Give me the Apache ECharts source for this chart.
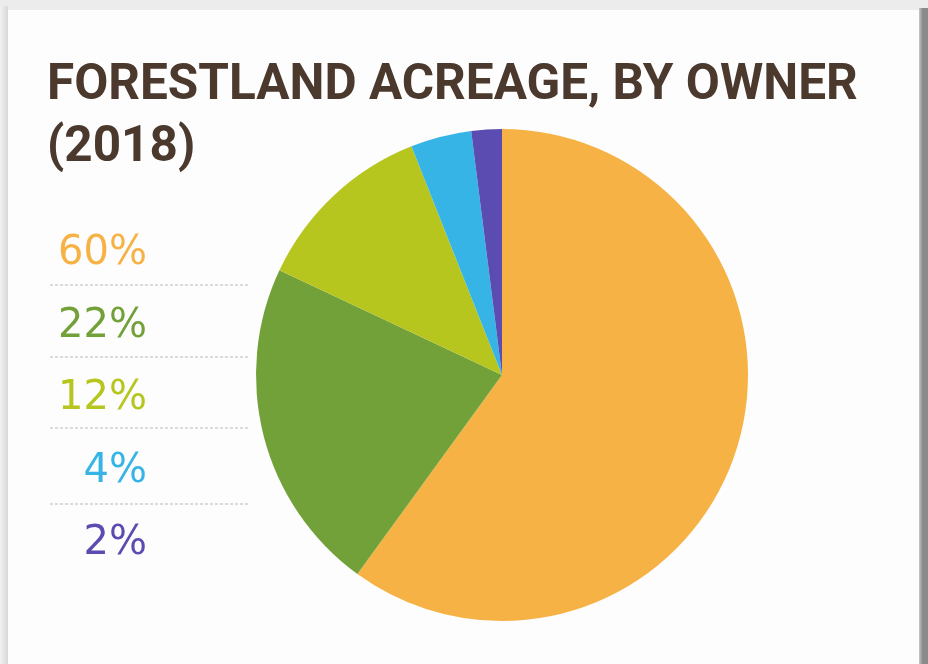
<!DOCTYPE html>
<html>
<head>
<meta charset="utf-8">
<script src="https://cdn.jsdelivr.net/npm/echarts@6/dist/echarts.min.js"></script>
<style>
  html, body { margin: 0; padding: 0; }
  body { width: 928px; height: 664px; background: #ececec; position: relative; overflow: hidden; }
  #shadowR { position: absolute; left: 919px; top: 8px; width: 9px; height: 656px;
    background: linear-gradient(to right, #c8c8c8, #8a8a8a 40%, #8a8a8a); }
  #shadowL { position: absolute; left: 0px; top: 6px; width: 8px; height: 658px;
    background: linear-gradient(to right, #f2f2f2, #d8d8d8); }
  #card { position: absolute; left: 8px; top: 10px; width: 911px; height: 654px; background: #fdfdfd; }
  #chart { position: absolute; left: 0; top: 0; width: 928px; height: 664px; }
</style>
</head>
<body>
<div id="shadowL"></div>
<div id="shadowR"></div>
<div id="card"></div>
<div id="chart"></div>
<script>
const titleText = 'FORESTLAND ACREAGE, BY OWNER\n(2018)';
const owners = ['Owner A', 'Owner B', 'Owner C', 'Owner D', 'Owner E'];
const shares = [60, 22, 12, 4, 2];
const colors = ['#F7B245', '#72A13A', '#B6C61F', '#37B4E6', '#5B4CB2'];

const chart = echarts.init(document.getElementById('chart'), null, { renderer: 'canvas' });

const dividerYs = [285, 357, 428, 504];
const graphics = dividerYs.map(y => ({
  type: 'line',
  shape: { x1: 50, y1: y, x2: 248, y2: y },
  style: { stroke: '#b9b9b9', lineWidth: 1, lineDash: [3, 2] },
  silent: true
}));

chart.setOption({
  backgroundColor: 'transparent',
  animation: false,
  title: {
    text: titleText,
    left: 42,
    top: 51,
    textStyle: {
      fontFamily: 'Roboto',
      fontWeight: 'bold',
      fontSize: 49.5,
      lineHeight: 62,
      color: '#4A392C'
    }
  },
  legend: {
    orient: 'vertical',
    left: 40,
    top: 229,
    icon: 'none',
    itemWidth: 0,
    itemHeight: 40,
    itemGap: 32.5,
    selectedMode: false,
    data: owners.map((n, i) => ({ name: n, textStyle: { color: colors[i] } })),
    formatter: name => '{v|' + shares[owners.indexOf(name)] + '%}',
    textStyle: {
      fontFamily: 'DejaVu Sans',
      fontSize: 40,
      lineHeight: 40,
      rich: {
        v: {
          fontFamily: 'DejaVu Sans',
          fontSize: 40,
          lineHeight: 40,
          width: 97,
          align: 'right'
        }
      }
    }
  },
  graphic: graphics,
  series: [{
    type: 'pie',
    center: [502, 375],
    radius: [0, 246],
    startAngle: 90,
    clockwise: true,
    label: { show: false },
    labelLine: { show: false },
    emphasis: { disabled: true },
    data: owners.map((n, i) => ({ name: n, value: shares[i], itemStyle: { color: colors[i] } }))
  }]
});
</script>
</body>
</html>
